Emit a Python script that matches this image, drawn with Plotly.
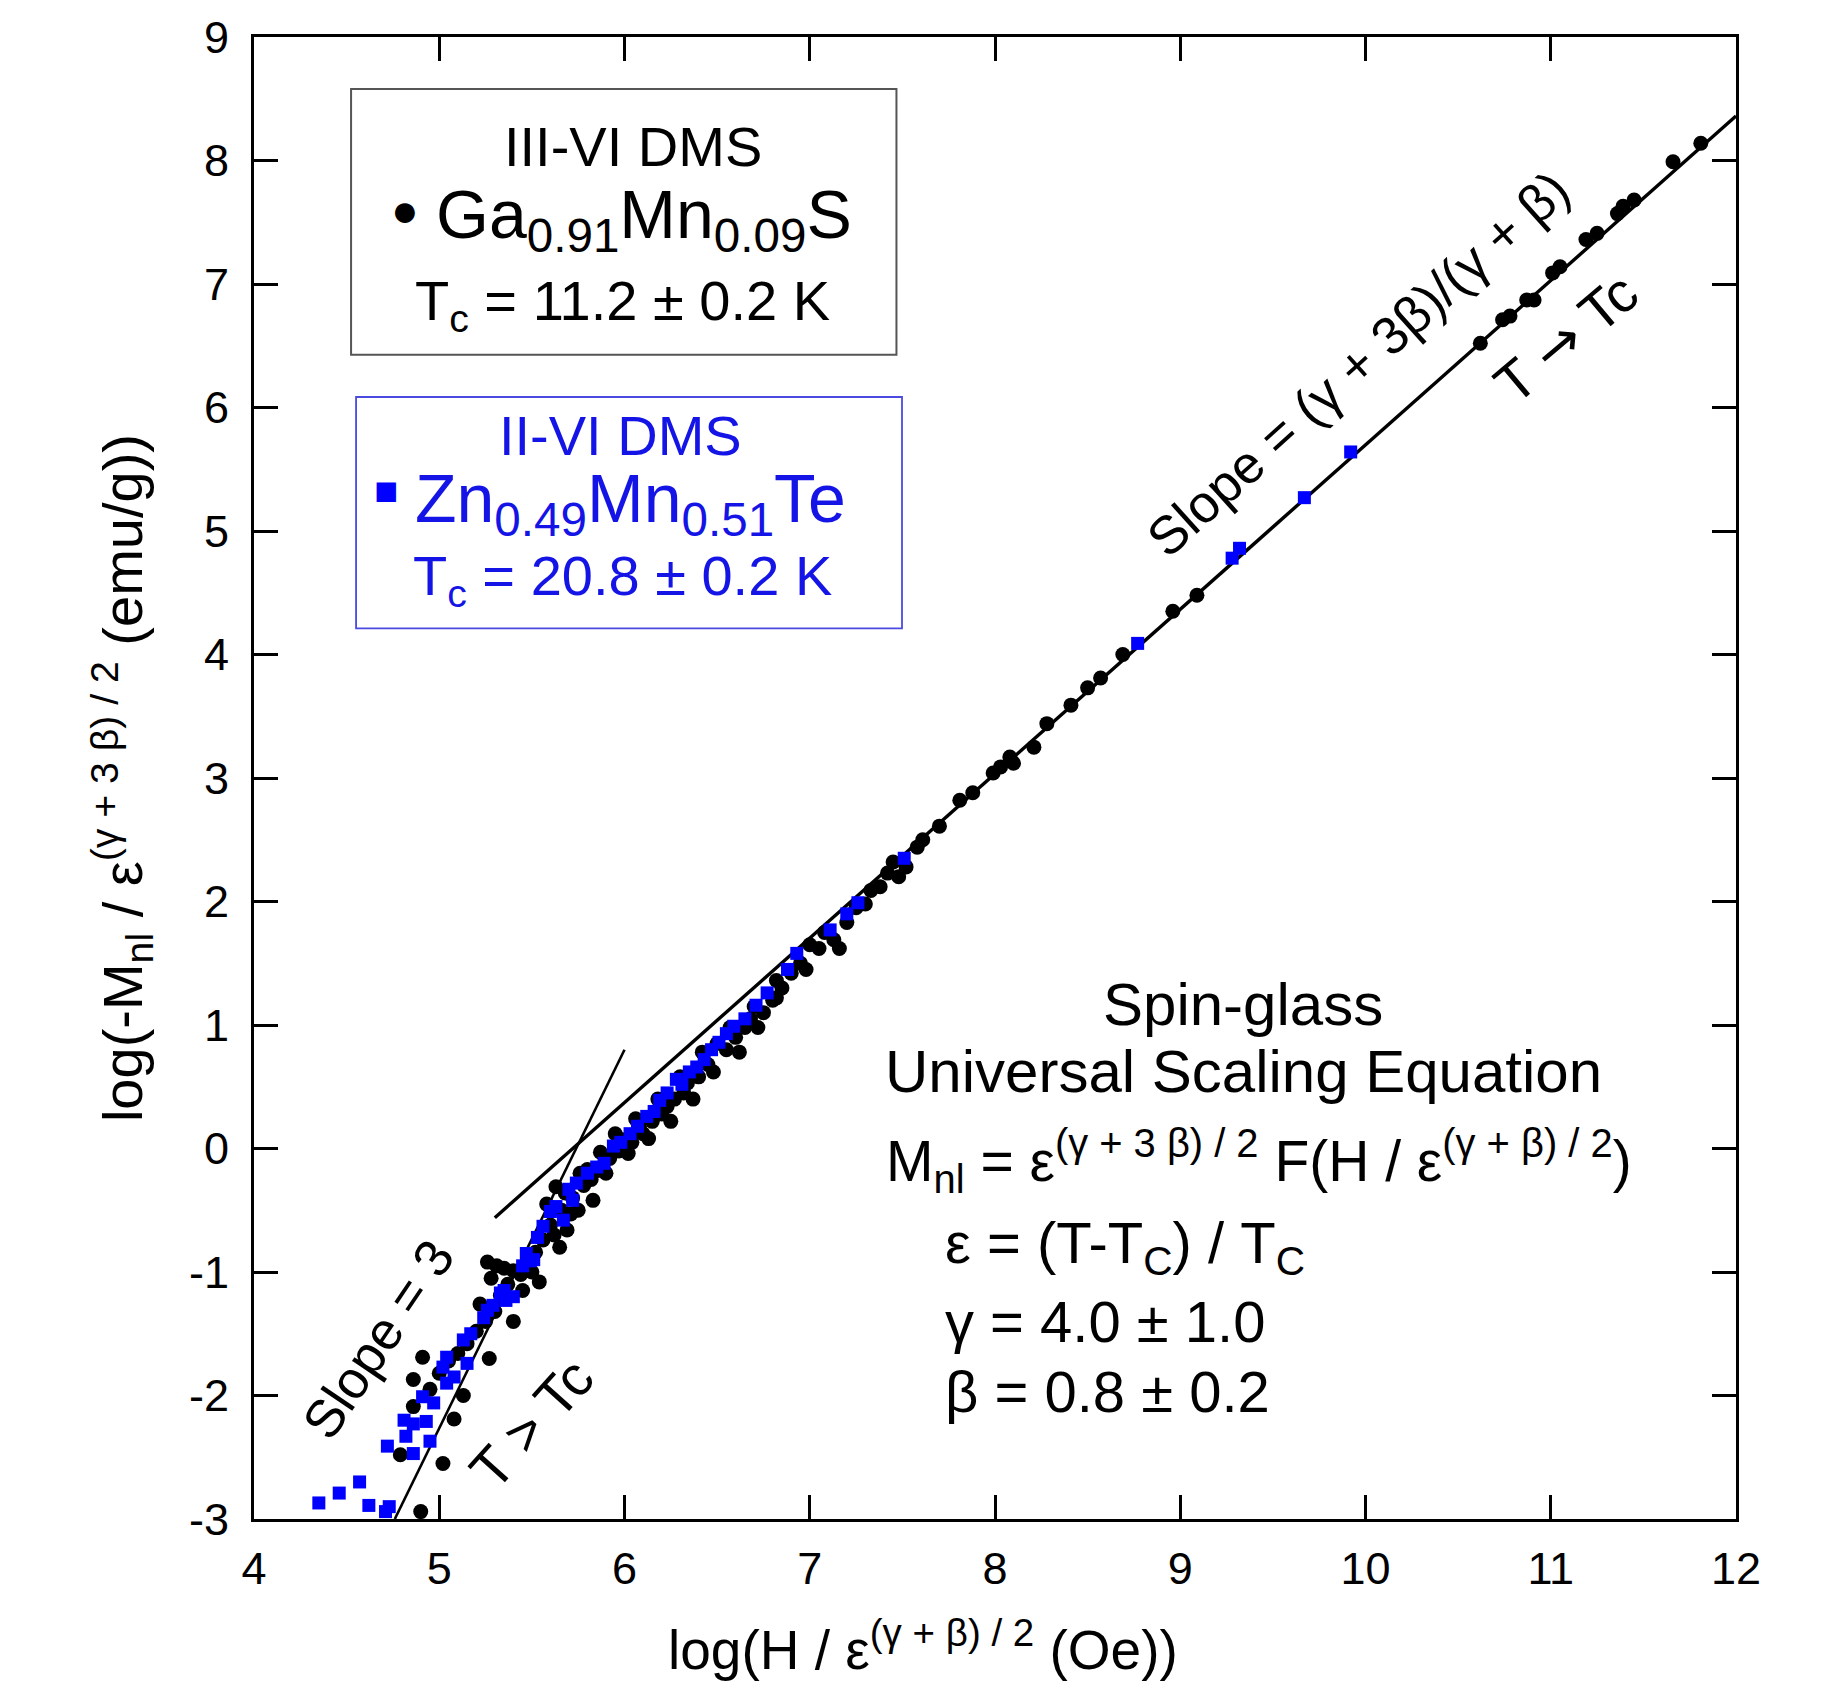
import plotly.graph_objects as go

# ---------------- data ----------------
# III-VI DMS  Ga0.91Mn0.09S  (black circles)
ga_x = [4.79, 4.86, 4.86, 4.90, 4.91, 4.95, 5.00, 5.02, 5.05, 5.08, 5.10, 5.13, 5.15, 5.20,
        5.22, 5.25, 5.26, 5.27, 5.28, 5.30, 5.31, 5.33, 5.35, 5.37, 5.40, 5.40, 5.44, 5.45,
        5.48, 5.50, 5.52, 5.54, 5.56, 5.58, 5.60, 5.62, 5.63, 5.65, 5.66, 5.68, 5.69, 5.71,
        5.72, 5.75, 5.76, 5.78, 5.80, 5.82, 5.83, 5.85, 5.87, 5.90, 5.92, 5.95, 5.97, 5.99,
        6.02, 6.04, 6.06, 6.08, 6.10, 6.13, 6.15, 6.18, 6.20, 6.23, 6.25, 6.27, 6.30, 6.32,
        6.34, 6.37, 6.40, 6.42, 6.45, 6.48, 6.50, 6.55, 6.57, 6.60, 6.62, 6.65, 6.68, 6.70,
        6.72, 6.75, 6.80, 6.82, 6.82, 6.85, 6.90, 6.95, 6.98, 7.00, 7.05, 7.08, 7.13, 7.16,
        7.20, 7.25, 7.30, 7.33, 7.38, 7.42, 7.45, 7.48, 7.52, 7.58, 7.61, 7.70, 7.81, 7.88,
        7.99, 8.03, 8.08, 8.10, 8.21, 8.28, 8.41, 8.50, 8.57, 8.69, 8.96, 9.09, 10.62, 10.74,
        10.78, 10.87, 10.91, 11.01, 11.05, 11.19, 11.25, 11.36, 11.39, 11.45, 11.66, 11.81]
ga_y = [-2.48, -2.09, -1.87, -2.94, -1.69, -1.95, -1.82, -2.55, -1.72, -2.19, -1.66, -2.00, -1.58, -1.48,
        -1.26, -1.40, -0.92, -1.70, -1.05, -1.32, -0.95, -1.19, -0.97, -1.10, -1.40, -0.99, -1.02, -1.15,
        -0.95, -1.00, -0.84, -1.08, -0.74, -0.45, -0.62, -0.70, -0.31, -0.80, -0.50, -0.36, -0.66, -0.53,
        -0.40, -0.50, -0.20, -0.30, -0.17, -0.25, -0.42, -0.18, -0.03, -0.20, -0.08, 0.12, -0.02, 0.07,
        -0.04, 0.05, 0.24, 0.18, 0.12, 0.08, 0.22, 0.40, 0.28, 0.34, 0.22, 0.40, 0.58, 0.45,
        0.53, 0.40, 0.58, 0.78, 0.68, 0.62, 0.85, 0.80, 0.98, 0.90, 0.78, 0.98, 1.05, 1.15,
        0.98, 1.10, 1.20, 1.36, 1.22, 1.30, 1.42, 1.50, 1.45, 1.65, 1.62, 1.75, 1.69, 1.62,
        1.83, 1.95, 1.98, 2.09, 2.12, 2.23, 2.32, 2.20, 2.28, 2.44, 2.50, 2.61, 2.82, 2.88,
        3.04, 3.09, 3.17, 3.12, 3.25, 3.44, 3.59, 3.73, 3.81, 4.00, 4.35, 4.48, 6.52, 6.71,
        6.74, 6.87, 6.87, 7.09, 7.14, 7.36, 7.41, 7.57, 7.63, 7.68, 7.99, 8.14]

# II-VI DMS  Zn0.49Mn0.51Te  (blue squares)
zn_x = [4.35, 4.46, 4.57, 4.62, 4.71, 4.72, 4.73, 4.81, 4.82, 4.86, 4.86, 4.91, 4.93, 4.95,
        4.97, 5.02, 5.04, 5.04, 5.08, 5.13, 5.15, 5.17, 5.24, 5.26, 5.29, 5.33, 5.35, 5.36,
        5.40, 5.45, 5.47, 5.49, 5.51, 5.53, 5.56, 5.60, 5.63, 5.67, 5.70, 5.72, 5.74, 5.80,
        5.85, 5.89, 5.94, 5.98, 6.03, 6.07, 6.12, 6.16, 6.19, 6.23, 6.28, 6.31, 6.35, 6.39,
        6.43, 6.47, 6.51, 6.55, 6.59, 6.65, 6.71, 6.77, 6.88, 6.93, 7.11, 7.20, 7.26, 7.51,
        8.77, 9.28, 9.32, 9.67, 9.92]
zn_y = [-2.87, -2.79, -2.70, -2.89, -2.94, -2.41, -2.90, -2.20, -2.33, -2.47, -2.23, -2.01, -2.21, -2.37,
        -2.06, -1.77, -1.90, -1.69, -1.85, -1.55, -1.74, -1.50, -1.37, -1.31, -1.27, -1.17, -1.15, -1.23,
        -1.20, -0.95, -0.85, -0.91, -0.90, -0.72, -0.63, -0.51, -0.47, -0.58, -0.33, -0.42, -0.28, -0.20,
        -0.15, -0.12, 0.02, 0.05, 0.12, 0.18, 0.26, 0.30, 0.39, 0.45, 0.56, 0.52, 0.62, 0.66,
        0.72, 0.80, 0.86, 0.93, 0.99, 1.05, 1.16, 1.26, 1.45, 1.58, 1.77, 1.90, 1.99, 2.35,
        4.09, 4.78, 4.86, 5.27, 5.64]

# guide lines
high_line_x = [5.30, 12.0]
high_line_y = [-0.56, 8.36]
low_line_x = [4.76, 6.00]
low_line_y = [-3.0, 0.80]

x_ticks = list(range(4, 13))
y_ticks = list(range(-3, 10))

FONT = "Liberation Sans, Arial, Helvetica, sans-serif"
BLUE = "#0000FF"
BLUE_TXT = "#1414E6"
ARROW = '<span style="font-family:DejaVu Sans">→</span>'

fig = go.Figure()

fig.add_trace(go.Scatter(x=high_line_x, y=high_line_y, mode="lines",
                         line=dict(color="black", width=3.4), showlegend=False))
fig.add_trace(go.Scatter(x=low_line_x, y=low_line_y, mode="lines",
                         line=dict(color="black", width=2.6), showlegend=False))
fig.add_trace(go.Scatter(x=ga_x, y=ga_y, mode="markers",
                         marker=dict(symbol="circle", size=15, color="black", line=dict(width=0)),
                         showlegend=False))
fig.add_trace(go.Scatter(x=zn_x, y=zn_y, mode="markers",
                         marker=dict(symbol="square", size=13, color=BLUE, line=dict(width=0)),
                         showlegend=False))

# legend boxes
fig.add_shape(type="rect", xref="x", yref="y", x0=4.524, y0=6.428, x1=7.468, y1=8.579,
              line=dict(color="#555555", width=2), layer="below")
fig.add_shape(type="rect", xref="x", yref="y", x0=4.551, y0=4.211, x1=7.498, y1=6.085,
              line=dict(color="#4a4ae0", width=1.8), layer="below")

def ann(x, y, text, size, color="black", angle=0, xanchor="center", xref="x", yref="y"):
    fig.add_annotation(x=x, y=y, xref=xref, yref=yref, text=text, showarrow=False,
                       font=dict(family=FONT, size=size, color=color), textangle=angle,
                       xanchor=xanchor, yanchor="middle")

ann(6.046, 8.115, "III-VI DMS", 56)
ann(4.815, 7.60, "●", 46)
ann(4.97, 7.53, "Ga<sub>0.91</sub>Mn<sub>0.09</sub>S", 68, xanchor="left")
ann(5.99, 6.835, "T<sub>c</sub> = 11.2 ± 0.2 K", 56)

ann(5.976, 5.775, "II-VI DMS", 56, BLUE_TXT)
ann(4.713, 5.33, "■", 40, BLUE)
ann(4.86, 5.23, "Zn<sub>0.49</sub>Mn<sub>0.51</sub>Te", 68, BLUE_TXT, xanchor="left")
ann(5.99, 4.61, "T<sub>c</sub> = 20.8 ± 0.2 K", 56, BLUE_TXT)

ann(9.96, 6.36, "Slope = (γ + 3β)/(γ + β)", 53, angle=-42)
ann(11.08, 6.56, "T " + ARROW + " Tc", 56, angle=-40)
ann(4.67, -1.55, "Slope = 3", 53, angle=-56)
ann(5.50, -2.23, "T > Tc", 56, angle=-48)

ann(9.34, 1.17, "Spin-glass", 60)
ann(9.34, 0.62, "Universal Scaling Equation", 60)
ann(7.40, -0.10, "M<sub>nl</sub> = ε<sup>(γ + 3 β) / 2</sup> F(H / ε<sup>(γ + β) / 2</sup>)", 57, xanchor="left")
ann(7.72, -0.80, "ε = (T-T<sub>C</sub>) / T<sub>C</sub>", 58, xanchor="left")
ann(7.72, -1.40, "γ = 4.0 ± 1.0", 58, xanchor="left")
ann(7.72, -1.97, "β = 0.8 ± 0.2", 58, xanchor="left")

# axis titles (placed as annotations so they sit where the reference has them)
ann(0.4514, -0.0855, "log(H / ε<sup>(γ + β) / 2</sup> (Oe))", 55, xref="paper", yref="paper")
ann(-0.0890, 0.5, "log(-M<sub>nl</sub> / ε<sup>(γ + 3 β) / 2</sup> (emu/g))", 56, angle=-90,
    xref="paper", yref="paper")

axis_common = dict(showgrid=False, zeroline=False, showline=True, linecolor="black", linewidth=3,
                   mirror="ticks", ticks="inside", ticklen=24, tickwidth=2.5, tickcolor="black",
                   tickfont=dict(family=FONT, size=45, color="black"))

fig.update_xaxes(range=[4, 12], tickvals=x_ticks, ticktext=[str(v) for v in x_ticks],
                 ticklabelstandoff=8, **axis_common)
fig.update_yaxes(range=[-3, 9], tickvals=y_ticks, ticktext=[str(v) for v in y_ticks],
                 ticklabelstandoff=13, **axis_common)

fig.update_layout(width=1835, height=1687, autosize=False,
                  margin=dict(l=254, r=99, t=37, b=168, autoexpand=False),
                  paper_bgcolor="white", plot_bgcolor="white", showlegend=False)

fig.write_html("out.html", config={"displayModeBar": False})
